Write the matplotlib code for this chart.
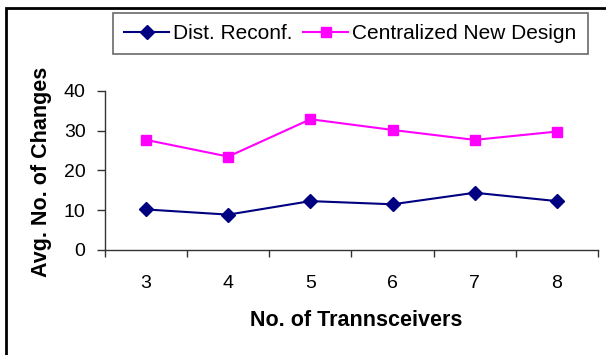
import matplotlib
matplotlib.use("Agg")
import matplotlib.pyplot as plt
from matplotlib.patches import Rectangle

plt.rcParams['font.family'] = ['Liberation Sans', 'DejaVu Sans']

categories = ["3", "4", "5", "6", "7", "8"]
dist_reconf = [10.2, 8.9, 12.3, 11.5, 14.4, 12.3]
central_new = [27.7, 23.5, 32.9, 30.2, 27.7, 29.8]
yticks = [0, 10, 20, 30, 40]

W, H = 606, 355
fig = plt.figure(figsize=(W / 100, H / 100), dpi=100)
ax = fig.add_axes([105 / W, 1 - 250 / H, (598 - 105) / W, (250 - 91) / H])

x = list(range(len(categories)))
ax.plot(x, dist_reconf, color='#000080', lw=1.5, marker='D', markersize=7,
        label='Dist. Reconf.')
ax.plot(x, central_new, color='#FF00FF', lw=1.5, marker='s', markersize=7,
        label='Centralized New Design')

ax.set_xlim(-0.5, len(categories) - 0.5)
ax.set_ylim(0, 40)
ax.set_yticks(yticks)
ax.set_xticks(x)
ax.set_xticklabels(categories)
ax.set_xticks([i - 0.5 for i in range(len(categories) + 1)], minor=True)
ax.tick_params(axis='x', which='major', length=0, pad=18, labelsize=14)
ax.tick_params(axis='x', which='minor', length=5, width=1, direction='out', color='#333333')
ax.tick_params(axis='y', length=6, width=1, direction='out', pad=8, labelsize=14, color='#333333')

for s in ['top', 'right']:
    ax.spines[s].set_visible(False)
for s in ['left', 'bottom']:
    ax.spines[s].set_color('#333333')
    ax.spines[s].set_linewidth(1)

fig.text(356 / W, 1 - 320 / H, 'No. of Trannsceivers', ha='center', va='center',
         fontsize=15.5, fontweight='bold')
fig.text(42 / W, 1 - 172 / H, 'Avg. No. of Changes', ha='center', va='center',
         rotation=90, fontsize=15.5, fontweight='bold')

leg = fig.legend(loc='center', bbox_to_anchor=(350.5 / W, 1 - 33.5 / H), ncol=2,
                 fontsize=15, frameon=True, fancybox=False, shadow=False,
                 handlelength=2.15, handletextpad=0.2, columnspacing=0.5,
                 borderpad=0.55, borderaxespad=0, markerscale=1.0)
leg.get_frame().set_edgecolor('#444444')
leg.get_frame().set_linewidth(1.2)

fig.patches.append(Rectangle((6 / W, -0.1), 1.2, 1 - 8 / H + 0.1, transform=fig.transFigure,
                             fill=False, edgecolor='black', lw=2, clip_on=False))

fig.savefig('out.png', dpi=100)
